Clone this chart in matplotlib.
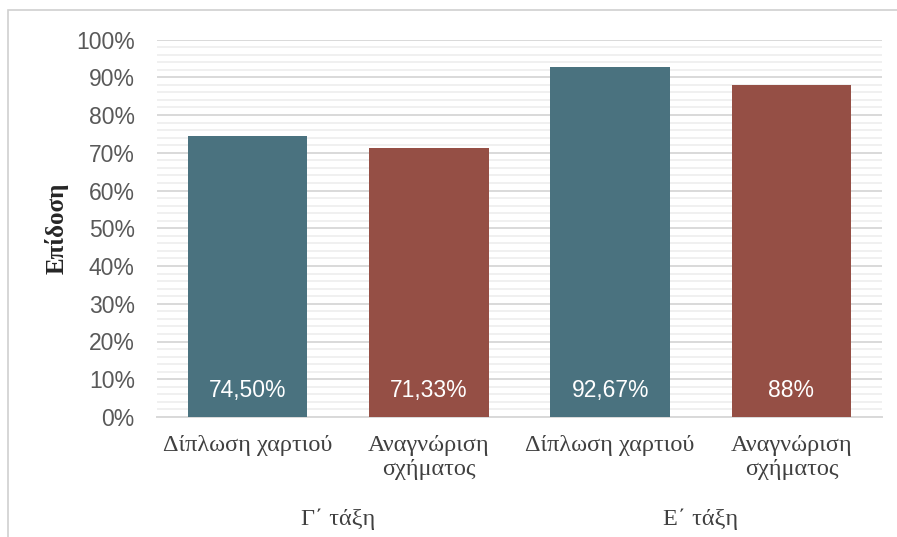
import matplotlib
matplotlib.use("Agg")
import matplotlib.pyplot as plt
from matplotlib.patches import Rectangle
from matplotlib.ticker import MultipleLocator, FuncFormatter

# Data
tasks = ["Δίπλωση χαρτιού", "Αναγνώριση\nσχήματος", "Δίπλωση χαρτιού", "Αναγνώριση\nσχήματος"]
groups = ["Γ΄ τάξη", "Ε΄ τάξη"]
scores = [74.50, 71.33, 92.67, 88.0]
bar_colors = ["#4A727F", "#954F45", "#4A727F", "#954F45"]


def pct_label(v):
    if float(v).is_integer():
        return f"{int(v)}%"
    return f"{v:.2f}".replace(".", ",") + "%"


fig = plt.figure(figsize=(8.97, 5.37), dpi=100)
ax = fig.add_axes([157 / 897, 1 - 417 / 537, (882 - 157) / 897, (417 - 39.5) / 537])

x = list(range(len(scores)))
bars = ax.bar(x, scores, width=0.66, color=bar_colors, zorder=3)

for xi, v in zip(x, scores):
    ax.text(xi, 7.0, pct_label(v), ha="center", va="center", color="white",
            fontsize=16.5, family="Liberation Sans", zorder=4)

ax.set_xlim(-0.5, 3.5)
ax.set_ylim(0, 100)
ax.yaxis.set_major_locator(MultipleLocator(10))
ax.yaxis.set_minor_locator(MultipleLocator(2))
ax.yaxis.set_major_formatter(FuncFormatter(lambda v, p: f"{int(round(v))}%"))
ax.grid(axis="y", which="minor", color="#F0F0F0", linewidth=1.4, zorder=0)
ax.grid(axis="y", which="major", color="#D9D9D9", linewidth=1.4, zorder=1)
ax.tick_params(axis="y", which="both", length=0, pad=16, labelsize=16.5,
               labelcolor="#595959")
for lab in ax.get_yticklabels():
    lab.set_family("Liberation Sans")

for s in ["top", "right", "left"]:
    ax.spines[s].set_visible(False)
ax.spines["bottom"].set_color("#D9D9D9")
ax.spines["bottom"].set_linewidth(1.4)

ax.set_xticks(x)
ax.set_xticklabels(tasks, family="Liberation Serif", fontsize=17.5, color="#404040",
                   linespacing=1.2)
ax.tick_params(axis="x", length=0, pad=13)

for gi, g in enumerate(groups):
    cx = (2 * gi + 0.5 + 0.5) / 4
    ax.text(cx, -0.27, g, transform=ax.transAxes, ha="center", va="center",
            family="Liberation Serif", fontsize=17.5, color="#404040")

ax.set_ylabel("Επίδοση", family="Liberation Serif", fontsize=18,
              fontweight="bold", color="#262626", labelpad=5)

# Figure border
fig.patches.append(Rectangle((8 / 897, -0.01), 1.0, 1 - 10 / 537 + 0.01,
                             transform=fig.transFigure, fill=False,
                             edgecolor="#D0D0D0", linewidth=1.2))

fig.savefig("out.png", dpi=100)
